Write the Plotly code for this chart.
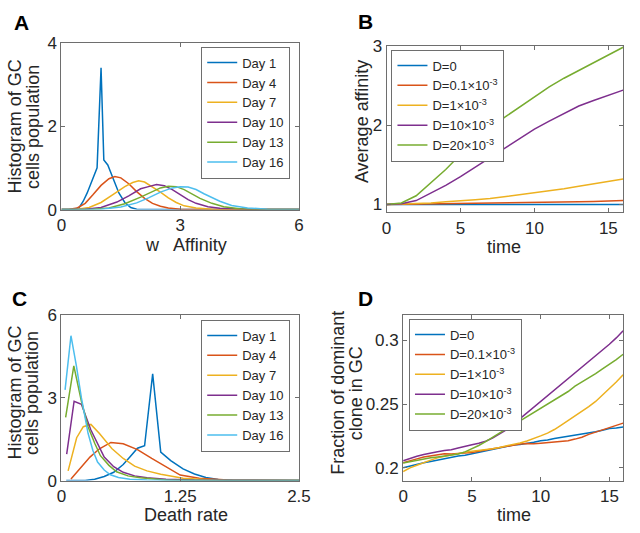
import plotly.graph_objects as go

# MATLAB default colour order
COLORS = ['#0072BD', '#D95319', '#EDB120', '#7E2F8E', '#77AC30', '#4DBEEE']
FONT = 'Liberation Sans, Arial, sans-serif'

day_labels = ['Day 1', 'Day 4', 'Day 7', 'Day 10', 'Day 13', 'Day 16']
d_labels = ['D=0', 'D=0.1×10<sup>-3</sup>', 'D=1×10<sup>-3</sup>',
            'D=10×10<sup>-3</sup>', 'D=20×10<sup>-3</sup>']

# --- Panel A: histogram vs affinity w ---
a_w = [
    [0, 0.3, 0.45, 0.55, 0.65, 0.75, 0.85, 0.9, 1.0, 1.07, 1.17, 1.3, 1.45, 1.6, 1.75, 1.9, 2.2, 3, 6],
    [0, 0.2, 0.4, 0.6, 0.8, 1.0, 1.2, 1.35, 1.5, 1.7, 1.9, 2.1, 2.3, 2.5, 2.7, 3.0, 3.5, 4, 6],
    [0, 0.4, 0.7, 1.0, 1.3, 1.6, 1.8, 1.95, 2.1, 2.3, 2.5, 2.7, 2.9, 3.1, 3.4, 3.8, 4.2, 6],
    [0, 0.6, 1.0, 1.4, 1.7, 2.0, 2.2, 2.4, 2.6, 2.8, 3.0, 3.2, 3.4, 3.7, 4.0, 4.5, 5, 6],
    [0, 0.8, 1.2, 1.6, 2.0, 2.3, 2.5, 2.7, 2.9, 3.1, 3.3, 3.5, 3.8, 4.1, 4.5, 5, 6],
    [0, 1.0, 1.5, 1.9, 2.2, 2.5, 2.8, 3.0, 3.2, 3.4, 3.6, 3.8, 4.0, 4.3, 4.7, 5.2, 6],
]
a_hist = [
    [0, 0.0, 0.05, 0.2, 0.4, 0.65, 0.9, 1.0, 3.4, 1.19, 1.07, 0.75, 0.4, 0.17, 0.05, 0.01, 0, 0, 0],
    [0, 0.01, 0.04, 0.15, 0.36, 0.58, 0.74, 0.79, 0.76, 0.62, 0.43, 0.27, 0.15, 0.08, 0.04, 0.01, 0, 0, 0],
    [0, 0.01, 0.05, 0.17, 0.36, 0.55, 0.65, 0.69, 0.66, 0.55, 0.42, 0.28, 0.17, 0.09, 0.04, 0.01, 0, 0],
    [0, 0.01, 0.05, 0.18, 0.33, 0.5, 0.55, 0.6, 0.57, 0.48, 0.36, 0.24, 0.15, 0.07, 0.03, 0.01, 0, 0],
    [0, 0.01, 0.04, 0.14, 0.3, 0.44, 0.52, 0.56, 0.55, 0.48, 0.38, 0.27, 0.15, 0.07, 0.02, 0.005, 0],
    [0, 0.01, 0.06, 0.16, 0.28, 0.42, 0.52, 0.55, 0.54, 0.48, 0.38, 0.28, 0.2, 0.1, 0.04, 0.01, 0],
]

# --- Panel B: average affinity vs time ---
b_time = list(range(17))
b_affinity = [
    [1.0] * 17,
    [1.0, 1.002, 1.005, 1.007, 1.01, 1.012, 1.015, 1.017, 1.02, 1.022, 1.025, 1.028, 1.031, 1.035, 1.039, 1.044, 1.05],
    [1.0, 1.005, 1.01, 1.02, 1.035, 1.045, 1.06, 1.075, 1.1, 1.12, 1.15, 1.17, 1.2, 1.23, 1.26, 1.29, 1.32],
    [1.0, 1.01, 1.05, 1.14, 1.24, 1.35, 1.47, 1.6, 1.72, 1.84, 1.95, 2.05, 2.15, 2.24, 2.31, 2.38, 2.44],
    [1.0, 1.02, 1.11, 1.27, 1.44, 1.63, 1.8, 1.96, 2.1, 2.23, 2.36, 2.48, 2.59, 2.69, 2.79, 2.89, 2.98],
]

# --- Panel C: histogram vs death rate ---
c_rate = [
    [0.05, 0.25, 0.35, 0.45, 0.55, 0.65, 0.72, 0.8, 0.875, 0.96, 1.045, 1.15, 1.28, 1.4, 1.52, 1.65, 1.8, 2.0, 2.5],
    [0.1, 0.2, 0.3, 0.4, 0.52, 0.65, 0.8, 0.95, 1.1, 1.25, 1.45, 1.75, 2.0, 2.5],
    [0.07, 0.16, 0.23, 0.31, 0.4, 0.53, 0.65, 0.77, 0.9, 1.045, 1.28, 1.6, 2.0, 2.5],
    [0.055, 0.133, 0.21, 0.31, 0.45, 0.55, 0.65, 0.77, 0.9, 1.1, 1.4, 2.5],
    [0.044, 0.13, 0.21, 0.28, 0.35, 0.41, 0.5, 0.58, 0.7, 0.83, 1.1, 1.5, 2.5],
    [0.038, 0.1, 0.157, 0.21, 0.28, 0.33, 0.38, 0.45, 0.515, 0.6, 0.72, 0.9, 1.2, 2.5],
]
c_hist = [
    [0, 0, 0.05, 0.15, 0.3, 0.58, 0.85, 1.17, 1.26, 3.86, 1.03, 0.72, 0.42, 0.24, 0.11, 0.04, 0.01, 0, 0],
    [0.06, 0.45, 0.85, 1.15, 1.38, 1.33, 1.12, 0.8, 0.5, 0.2, 0.08, 0.02, 0.01, 0],
    [0.35, 1.55, 1.95, 2.03, 1.7, 1.16, 0.8, 0.52, 0.35, 0.23, 0.08, 0.02, 0.01, 0],
    [0.96, 2.87, 2.76, 1.83, 0.85, 0.5, 0.3, 0.17, 0.1, 0.05, 0.02, 0],
    [2.29, 4.15, 2.87, 1.95, 1.35, 0.9, 0.55, 0.32, 0.17, 0.1, 0.02, 0.005, 0],
    [3.28, 5.24, 4.15, 2.99, 1.71, 1.1, 0.67, 0.38, 0.21, 0.11, 0.05, 0.02, 0.005, 0],
]

# --- Panel D: fraction of dominant clone vs time ---
d_time = [i * 0.5 for i in range(33)]
d_fraction = [
    [0.2000, 0.2015, 0.2025, 0.2040, 0.2050, 0.2062, 0.2068, 0.2080, 0.2092, 0.2098,
     0.2110, 0.2122, 0.2130, 0.2145, 0.2158, 0.2165, 0.2178, 0.2182, 0.2190, 0.2200,
     0.2212, 0.2218, 0.2230, 0.2238, 0.2248, 0.2255, 0.2262, 0.2270, 0.2282, 0.2295,
     0.2308, 0.2312, 0.2320],
    [0.2040, 0.2058, 0.2070, 0.2085, 0.2092, 0.2102, 0.2110, 0.2108, 0.2112, 0.2115,
     0.2120, 0.2130, 0.2140, 0.2152, 0.2160, 0.2172, 0.2180, 0.2186, 0.2190, 0.2188,
     0.2192, 0.2198, 0.2200, 0.2205, 0.2212, 0.2225, 0.2240, 0.2262, 0.2280, 0.2302,
     0.2320, 0.2338, 0.2350],
    [0.1970, 0.2000, 0.2020, 0.2042, 0.2060, 0.2078, 0.2090, 0.2100, 0.2110, 0.2122,
     0.2130, 0.2135, 0.2140, 0.2150, 0.2160, 0.2170, 0.2180, 0.2195, 0.2210, 0.2228,
     0.2250, 0.2272, 0.2300, 0.2335, 0.2370, 0.2405, 0.2440, 0.2480, 0.2520, 0.2570,
     0.2620, 0.2672, 0.2730],
    [0.2055, 0.2075, 0.2090, 0.2105, 0.2118, 0.2125, 0.2135, 0.2142, 0.2155, 0.2165,
     0.2180, 0.2192, 0.2208, 0.2232, 0.2262, 0.2298, 0.2340, 0.2385, 0.2428, 0.2472,
     0.2515, 0.2562, 0.2605, 0.2650, 0.2695, 0.2742, 0.2785, 0.2830, 0.2875, 0.2922,
     0.2968, 0.3018, 0.3075],
    [0.2037, 0.2048, 0.2060, 0.2068, 0.2078, 0.2085, 0.2092, 0.2098, 0.2108, 0.2125,
     0.2148, 0.2175, 0.2205, 0.2240, 0.2272, 0.2305, 0.2335, 0.2368, 0.2400, 0.2432,
     0.2462, 0.2495, 0.2528, 0.2560, 0.2598, 0.2640, 0.2672, 0.2705, 0.2738, 0.2775,
     0.2810, 0.2848, 0.2890],
]

# 参考图尺寸，用于把像素位置换算成 paper 坐标
W, H = 640, 533


def px_x(v):
    return v / W


def px_y(v):
    return 1 - v / H


fig = go.Figure()

# 添加曲线
for i, name in enumerate(day_labels):
    fig.add_trace(go.Scatter(x=a_w[i], y=a_hist[i], mode='lines', name=name,
                             line=dict(color=COLORS[i], width=1.5),
                             xaxis='x', yaxis='y', legend='legend'))
for i, name in enumerate(d_labels):
    fig.add_trace(go.Scatter(x=b_time, y=b_affinity[i], mode='lines', name=name,
                             line=dict(color=COLORS[i], width=1.5),
                             xaxis='x2', yaxis='y2', legend='legend2'))
for i, name in enumerate(day_labels):
    fig.add_trace(go.Scatter(x=c_rate[i], y=c_hist[i], mode='lines', name=name,
                             line=dict(color=COLORS[i], width=1.5),
                             xaxis='x3', yaxis='y3', legend='legend3'))
for i, name in enumerate(d_labels):
    fig.add_trace(go.Scatter(x=d_time, y=d_fraction[i], mode='lines', name=name,
                             line=dict(color=COLORS[i], width=1.5),
                             xaxis='x4', yaxis='y4', legend='legend4'))

axis_style = dict(showline=True, linecolor='#6e6e6e', linewidth=1, mirror='ticks',
                  ticks='inside', ticklen=4, tickcolor='#6e6e6e', showgrid=False,
                  zeroline=False, tickfont=dict(family=FONT, size=17, color='#262626'))

legend_style = dict(yanchor='top', bgcolor='white',
                    bordercolor='#6e6e6e', borderwidth=1,
                    font=dict(family=FONT, size=13, color='#262626'),
                    tracegroupgap=0, itemwidth=30)

fig.update_layout(
    autosize=True,
    margin=dict(l=0, r=0, t=0, b=0),
    paper_bgcolor='white', plot_bgcolor='white',
    xaxis=dict(domain=[px_x(58), px_x(302)], range=[0, 6], tickvals=[0, 3, 6], anchor='y', **axis_style),
    yaxis=dict(domain=[px_y(208), px_y(35)], range=[0, 4], tickvals=[0, 2, 4], anchor='x', **axis_style),
    xaxis2=dict(domain=[px_x(392), px_x(635)], range=[0, 16], tickvals=[0, 5, 10, 15], anchor='y2', **axis_style),
    yaxis2=dict(domain=[px_y(211), px_y(38)], range=[0.9, 3], tickvals=[1, 2, 3], anchor='x2', **axis_style),
    xaxis3=dict(domain=[px_x(58), px_x(302)], range=[0, 2.5], tickvals=[0, 1.25, 2.5], anchor='y3', **axis_style),
    yaxis3=dict(domain=[px_y(489), px_y(317)], range=[0, 6], tickvals=[0, 3, 6], anchor='x3', **axis_style),
    xaxis4=dict(domain=[px_x(409), px_x(635)], range=[0, 16], tickvals=[0, 5, 10, 15], anchor='y4', **axis_style),
    yaxis4=dict(domain=[px_y(489), px_y(317)], range=[0.19, 0.32], tickvals=[0.2, 0.25, 0.3],
                ticktext=['0.2', '0.25', '0.3'], anchor='x4', **axis_style),
    legend=dict(x=px_x(293), y=px_y(39), xanchor='right', **legend_style),
    legend2=dict(x=px_x(397), y=px_y(42), xanchor='left', **legend_style),
    legend3=dict(x=px_x(293), y=px_y(322), xanchor='right', **legend_style),
    legend4=dict(x=px_x(415), y=px_y(321), xanchor='left', **legend_style),
    showlegend=True,
)

# 面板字母和坐标轴标题 (多行标题逐行放置，行距更紧)
title_font = dict(family=FONT, size=18, color='#262626')
letter_font = dict(family=FONT, size=21, color='black')
annotations = [
    dict(text='<b>A</b>', x=17, y=14, font=letter_font),
    dict(text='<b>B</b>', x=370, y=13, font=letter_font),
    dict(text='<b>C</b>', x=15, y=300, font=letter_font),
    dict(text='<b>D</b>', x=370, y=300, font=letter_font),
    dict(text='w   Affinity', x=186, y=245, font=title_font),
    dict(text='Histogram of GC', x=10, y=122, textangle=-90, font=title_font),
    dict(text='cells population', x=28, y=122, textangle=-90, font=title_font),
    dict(text='time', x=513, y=247, font=title_font),
    dict(text='Average affinity', x=367, y=117, textangle=-90, font=title_font),
    dict(text='Death rate', x=186, y=525, font=title_font),
    dict(text='Histogram of GC', x=10, y=398, textangle=-90, font=title_font),
    dict(text='cells population', x=28, y=398, textangle=-90, font=title_font),
    dict(text='time', x=523, y=525, font=title_font),
    dict(text='Fraction of dominant', x=342, y=398, textangle=-90, font=title_font),
    dict(text='clone in GC', x=360, y=398, textangle=-90, font=title_font),
]
for a in annotations:
    fig.add_annotation(text=a['text'], x=px_x(a['x']), y=px_y(a['y']),
                       xref='paper', yref='paper', showarrow=False,
                       xanchor='center', yanchor='middle',
                       textangle=a.get('textangle', 0), font=a['font'])

# 图铺满整个窗口，去掉页面默认边距和工具栏
fig.write_html("out.html",
               default_width='100vw', default_height='100vh',
               config={'displayModeBar': False},
               post_script="document.body.style.margin='0';"
                           "document.body.style.overflow='hidden';")
